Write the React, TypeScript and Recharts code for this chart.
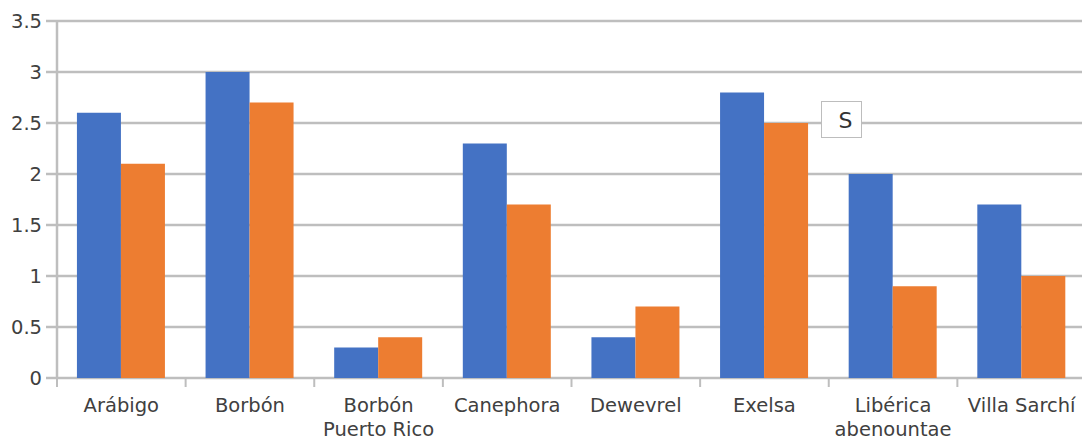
import React from "react";
import { BarChart, Bar, XAxis, YAxis, CartesianGrid } from "recharts";

// categories and values
const categories = [
  "Arábigo",
  "Borbón",
  "Borbón\nPuerto Rico",
  "Canephora",
  "Dewevrel",
  "Exelsa",
  "Libérica\nabenountae",
  "Villa Sarchí",
];
const seriesBlue = [2.6, 3.0, 0.3, 2.3, 0.4, 2.8, 2.0, 1.7];
const seriesOrange = [2.1, 2.7, 0.4, 1.7, 0.7, 2.5, 0.9, 1.0];
const yTicks = [0, 0.5, 1, 1.5, 2, 2.5, 3, 3.5];

const CHART_W = 1090;
const CHART_H = 440;
const MARGIN = { top: 21, right: 4, left: 0, bottom: 12 };
const Y_W = 57;
const BAND = (CHART_W - MARGIN.left - MARGIN.right - Y_W) / categories.length;

const GRID = "#BEBEBE";
const FONT = "'DejaVu Sans', sans-serif";
const FS = 19.5;

const data = categories.map((name, i) => ({
  name,
  a: seriesBlue[i],
  b: seriesOrange[i],
}));

const XTick = (props: any) => {
  const { x, y, payload } = props;
  const lines = String(payload.value).split("\n");
  const bx = x - BAND / 2;
  return (
    <g>
      <line x1={bx} y1={y} x2={bx} y2={y + 9} stroke={GRID} strokeWidth={2} />
      <text x={x} y={y} textAnchor="middle" fontSize={FS} fill="#404040" fontFamily={FONT}>
        {lines.map((l, i) => (
          <tspan key={i} x={x} dy={i === 0 ? 34 : 24}>
            {l}
          </tspan>
        ))}
      </text>
    </g>
  );
};

export default function App() {
  return (
    <div style={{ position: "fixed", left: 0, top: 0, width: 1082, height: 440, overflow: "hidden", background: "#fff" }}>
      <BarChart
        width={CHART_W}
        height={CHART_H}
        data={data}
        margin={MARGIN}
        barCategoryGap="15.5%"
        barGap={0}
      >
        <CartesianGrid horizontal vertical={false} stroke={GRID} strokeWidth={2.5} />
        <XAxis
          dataKey="name"
          axisLine={false}
          tickLine={false}
          tickSize={0}
          tickMargin={0}
          interval={0}
          height={50}
          tick={<XTick />}
        />
        <YAxis
          width={Y_W}
          domain={[0, 3.5]}
          ticks={yTicks}
          interval={0}
          axisLine={{ stroke: GRID, strokeWidth: 2.5 }}
          tickLine={{ stroke: GRID, strokeWidth: 2.5 }}
          tickSize={11}
          tickMargin={4}
          tick={{ fontSize: FS, fill: "#404040", fontFamily: FONT }}
        />
        <Bar dataKey="a" fill="#4472C4" isAnimationActive={false} />
        <Bar dataKey="b" fill="#ED7D31" isAnimationActive={false} />
      </BarChart>
      <div
        style={{
          position: "absolute",
          left: 821,
          top: 101,
          width: 41,
          height: 37,
          border: "1px solid #BDBDBD",
          background: "#fff",
          fontFamily: FONT,
          fontSize: 22,
          color: "#333",
          lineHeight: "37px",
          textAlign: "center",
          paddingLeft: 8,
          boxSizing: "border-box",
        }}
      >
        S
      </div>
    </div>
  );
}
